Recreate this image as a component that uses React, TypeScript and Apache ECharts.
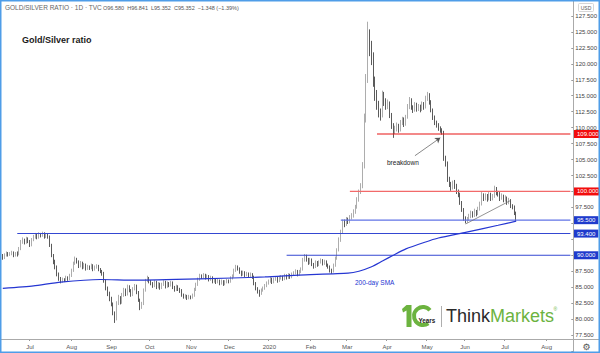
import React, { useEffect, useRef } from 'react';
import * as echarts from 'echarts';

// ---- categories: weekday trading dates (Jun 10 2019 .. Aug 21 2020) ----
const START_DATE = '2019-06-10';
const CATEGORY_COUNT = 315;
const dates: string[] = (() => {
  const out: string[] = [];
  const d = new Date(START_DATE + 'T00:00:00Z');
  while (out.length < CATEGORY_COUNT) {
    const wd = d.getUTCDay();
    if (wd !== 0 && wd !== 6) out.push(d.toISOString().slice(0, 10));
    d.setUTCDate(d.getUTCDate() + 1);
  }
  return out;
})();

const MONTHS = ['Jan', 'Feb', 'Mar', 'Apr', 'May', 'Jun', 'Jul', 'Aug', 'Sep', 'Oct', 'Nov', 'Dec'];

// ---- daily candles [open, close, low, high] ----
const ohlc: number[][] = [
  [89.9,89.6,89.3,90.2],[89.6,90.0,89.4,90.3],[90.0,90.3,89.8,90.6],[90.3,90.1,89.8,90.5],[90.1,90.2,89.9,90.5],
  [90.2,90.4,90.0,90.7],[90.4,90.0,89.7,90.6],[90.0,90.3,89.8,90.5],[90.3,90.1,89.8,90.6],[90.1,91.0,90.0,91.3],
  [91.0,92.1,90.8,92.4],[92.1,92.4,91.8,92.8],[92.4,92.0,91.7,92.6],[92.0,92.6,91.8,92.9],[92.6,92.2,91.9,92.8],
  [92.2,91.6,91.3,92.4],[91.6,92.4,91.4,92.7],[92.4,92.9,92.2,93.2],[92.9,93.2,92.6,93.5],[93.2,92.8,92.5,93.4],
  [92.8,93.3,92.6,93.6],[93.3,93.1,92.8,93.5],[93.1,93.4,92.9,93.7],[93.4,92.9,92.6,93.6],[92.9,93.2,92.7,93.5],
  [93.2,93.0,92.6,93.4],[93.0,91.6,91.3,93.1],[91.6,90.0,89.7,91.8],[90.0,89.0,88.6,90.2],[89.0,88.2,87.8,89.3],
  [88.2,87.0,86.7,88.4],[87.0,86.3,86.0,87.3],[86.3,85.9,85.6,86.6],[85.9,86.2,85.7,86.5],[86.2,86.0,85.8,86.4],
  [86.0,86.5,85.8,86.8],[86.5,86.3,86.0,86.7],[86.3,86.8,86.1,87.1],[86.8,87.6,86.6,87.9],[87.6,88.7,87.4,89.0],
  [88.7,89.4,88.5,89.8],[89.4,89.0,88.7,89.6],[89.0,88.3,88.0,89.2],[88.3,88.8,88.1,89.1],[88.8,88.1,87.8,89.0],
  [88.1,88.5,87.9,88.8],[88.5,87.9,87.6,88.7],[87.9,88.2,87.7,88.5],[88.2,88.0,87.7,88.4],[88.0,88.4,87.8,88.7],
  [88.4,87.8,87.5,88.6],[87.8,88.1,87.6,88.4],[88.1,88.3,87.9,88.6],[88.3,87.8,87.5,88.5],[87.8,87.5,87.2,88.0],
  [87.5,87.2,86.8,87.7],[87.2,86.0,85.7,87.4],[86.0,84.8,84.5,86.2],[84.8,84.0,83.6,85.1],[84.0,83.2,82.8,84.3],
  [83.2,82.4,82.0,83.5],[82.4,80.9,80.6,82.6],[80.9,80.0,79.4,81.2],[80.0,82.5,79.8,82.8],[82.5,83.4,82.2,83.8],
  [83.4,82.6,82.3,83.6],[82.6,83.8,82.4,84.1],[83.8,84.6,83.5,84.9],[84.6,83.9,83.6,84.8],[83.9,85.1,83.7,85.4],
  [85.1,84.5,84.2,85.3],[84.5,83.8,83.5,84.7],[83.8,84.7,83.6,85.0],[84.7,85.2,84.5,85.5],[85.2,84.2,83.9,85.4],
  [84.2,83.0,82.7,84.4],[83.0,81.9,81.4,83.2],[81.9,82.4,81.6,82.7],[82.4,84.5,82.2,84.8],[84.5,86.0,84.3,86.3],
  [86.0,86.4,85.8,86.8],[86.4,85.9,85.6,86.6],[85.9,85.6,85.3,86.1],[85.6,85.2,84.9,85.8],[85.2,85.8,85.0,86.1],
  [85.8,85.0,84.7,86.0],[85.0,85.5,84.8,85.8],[85.5,84.9,84.6,85.7],[84.9,85.4,84.7,85.7],[85.4,85.8,85.2,86.1],
  [85.8,85.1,84.8,86.0],[85.1,85.6,84.9,85.9],[85.6,85.3,85.0,85.8],[85.3,85.7,85.1,86.0],[85.7,85.0,84.7,85.9],
  [85.0,84.6,84.3,85.2],[84.6,85.1,84.4,85.4],[85.1,84.7,84.4,85.3],[84.7,84.5,84.1,84.9],[84.5,83.8,83.5,84.7],
  [83.8,83.5,83.2,84.0],[83.5,83.6,83.2,83.9],[83.6,83.3,83.0,83.8],[83.3,83.5,83.1,83.8],[83.5,83.4,83.1,83.7],
  [83.4,83.7,83.2,84.0],[83.7,84.6,83.5,84.9],[84.6,85.4,84.4,85.7],[85.4,86.2,85.2,86.5],[86.2,86.8,86.0,87.1],
  [86.8,86.6,86.3,87.0],[86.6,86.9,86.4,87.2],[86.9,86.5,86.2,87.1],[86.5,86.7,86.3,87.0],[86.7,86.2,85.9,86.9],
  [86.2,86.5,86.0,86.8],[86.5,85.9,85.6,86.7],[85.9,86.1,85.7,86.4],[86.1,85.8,85.5,86.3],[85.8,86.0,85.6,86.3],
  [86.0,85.6,85.3,86.2],[85.6,85.9,85.4,86.2],[85.9,85.5,85.2,86.1],[85.5,85.8,85.3,86.1],[85.8,86.0,85.6,86.3],
  [86.0,85.9,85.6,86.2],[85.9,86.4,85.7,86.7],[86.4,86.7,86.2,87.0],[86.7,87.6,86.5,87.9],[87.6,88.2,87.4,88.5],
  [88.2,87.9,87.6,88.4],[87.9,87.4,87.1,88.1],[87.4,87.0,86.7,87.6],[87.0,87.3,86.8,87.6],[87.3,86.9,86.6,87.5],
  [86.9,87.1,86.7,87.4],[87.1,86.8,86.5,87.3],[86.8,87.0,86.6,87.3],[87.0,86.6,86.3,87.2],[86.6,85.6,85.3,86.8],
  [85.6,84.8,84.5,85.8],[84.8,84.4,84.0,85.0],[84.4,84.0,83.5,84.6],[84.0,84.5,83.8,84.8],[84.5,84.8,84.3,85.1],
  [84.8,85.2,84.6,85.5],[85.2,85.6,85.0,85.9],[85.6,85.9,85.4,86.2],[85.9,86.3,85.7,86.6],[86.3,85.8,85.5,86.5],
  [85.8,86.2,85.6,86.5],[86.2,86.4,86.0,86.7],[86.4,86.0,85.7,86.6],[86.0,86.5,85.8,86.8],[86.5,86.6,86.2,86.9],
  [86.6,86.3,86.0,86.8],[86.3,86.8,86.1,87.1],[86.8,86.5,86.2,87.0],[86.5,86.9,86.3,87.2],[86.9,86.6,86.3,87.1],
  [86.6,87.0,86.4,87.3],[87.0,87.2,86.8,87.5],[87.2,87.5,87.0,87.8],[87.5,87.0,86.7,87.7],[87.0,87.4,86.8,87.7],
  [87.4,87.8,87.2,88.1],[87.8,89.2,87.6,89.6],[89.2,89.8,89.0,90.2],[89.8,89.4,89.0,90.1],[89.4,88.8,88.5,89.6],
  [88.8,89.3,88.6,89.6],[89.3,88.6,88.3,89.5],[88.6,88.2,87.9,88.8],[88.2,88.9,88.0,89.2],[88.9,88.5,88.2,89.1],
  [88.5,88.9,88.3,89.2],[88.9,89.2,88.7,89.5],[89.2,88.7,88.4,89.4],[88.7,89.0,88.5,89.3],[89.0,88.5,88.2,89.2],
  [88.5,88.2,87.9,88.7],[88.2,87.6,87.3,88.4],[87.6,87.5,87.1,87.9],[87.5,88.4,87.3,88.7],[88.4,89.5,88.2,89.8],
  [89.5,90.8,89.3,91.1],[90.8,92.4,90.6,92.8],[92.4,93.6,92.1,94.0],[93.6,95.2,93.4,95.6],[95.2,94.8,94.4,95.6],
  [94.8,95.6,94.6,96.0],[95.6,95.2,94.9,95.9],[95.2,95.9,95.0,96.3],[95.9,96.2,95.6,96.6],[96.2,96.8,95.9,97.2],
  [96.8,97.5,96.5,97.9],[97.5,98.7,97.3,99.1],[98.7,99.9,98.4,100.3],[99.9,100.8,99.6,101.3],[100.8,104.0,100.5,104.6],
  [104.0,111.5,103.6,112.2],[111.5,117.5,110.8,118.4],[117.5,124.0,117.0,126.6],[124.0,122.5,121.2,125.4],[122.5,121.0,119.8,123.6],
  [121.0,117.2,116.4,121.8],[117.2,115.0,114.2,118.0],[115.0,113.6,112.8,115.9],[113.6,112.3,111.6,114.2],[112.3,111.9,111.1,113.0],
  [111.9,115.2,111.6,115.8],[115.2,114.0,113.4,115.6],[114.0,113.5,112.8,114.6],[113.5,113.8,112.9,114.4],[113.8,112.0,111.5,114.1],
  [112.0,110.4,109.8,112.3],[110.4,109.3,108.4,110.7],[109.3,109.8,109.0,110.3],[109.8,110.3,109.4,110.8],[110.3,109.6,109.2,110.6],
  [109.6,110.8,109.4,111.2],[110.8,111.3,110.4,111.7],[111.3,110.5,110.1,111.6],[110.5,111.6,110.3,112.0],[111.6,113.2,111.4,113.7],
  [113.2,114.3,112.9,114.8],[114.3,113.2,112.8,114.6],[113.2,112.8,112.3,113.5],[112.8,113.6,112.5,114.0],[113.6,112.9,112.5,113.9],
  [112.9,113.3,112.6,113.7],[113.3,112.8,112.4,113.6],[112.8,113.7,112.6,114.1],[113.7,113.2,112.8,114.0],[113.2,114.6,113.0,115.0],
  [114.6,115.2,114.2,115.6],[115.2,114.0,113.6,115.4],[114.0,112.8,112.4,114.3],[112.8,111.6,111.2,113.0],[111.6,110.8,110.4,111.9],
  [110.8,110.4,110.0,111.1],[110.4,109.9,109.5,110.7],[109.9,109.6,109.2,110.2],[109.6,109.3,108.9,109.9],[109.3,105.2,104.8,109.5],
  [105.2,104.4,103.9,105.6],[104.4,101.9,101.5,104.7],[101.9,101.2,100.7,102.3],[101.2,100.6,100.1,101.5],[100.6,101.3,100.3,101.7],
  [101.3,100.9,100.4,101.8],[100.9,100.0,99.6,101.2],[100.0,99.6,99.1,100.3],[99.6,98.3,97.9,99.8],[98.3,97.2,96.8,98.5],
  [97.2,95.8,95.4,97.4],[95.8,95.3,95.0,96.1],[95.3,95.7,95.1,96.0],[95.7,96.1,95.4,96.5],[96.1,96.6,95.8,97.0],
  [96.6,96.3,95.9,96.9],[96.3,96.9,96.0,97.3],[96.9,96.5,96.1,97.1],[96.5,97.3,96.3,97.6],[97.3,98.0,97.0,98.4],
  [98.0,99.4,97.8,99.9],[99.4,98.9,98.5,99.7],[98.9,99.3,98.6,99.7],[99.3,98.8,98.4,99.6],[98.8,99.5,98.6,99.9],
  [99.5,98.9,98.5,99.8],[98.9,99.2,98.6,99.6],[99.2,100.4,99.0,100.9],[100.4,99.8,99.4,100.7],[99.8,99.6,99.2,100.1],
  [99.6,98.9,98.5,99.9],[98.9,99.3,98.7,99.7],[99.3,98.7,98.3,99.5],[98.7,99.0,98.4,99.4],[99.0,98.3,97.9,99.2],
  [98.3,98.6,98.0,99.0],[98.6,97.8,97.4,98.8],[97.8,97.6,97.2,98.0],[97.6,96.7,96.3,97.8],[96.58,95.352,95.352,96.841],
];

// ---- 200-day SMA readings ----
const smaDates = ['2019-06-10','2019-07-03','2019-07-24','2019-08-23','2019-09-19','2019-11-08','2019-12-30','2020-01-24',
  '2020-03-03','2020-03-11','2020-03-20','2020-03-30','2020-04-07','2020-04-16','2020-04-30','2020-05-12','2020-06-02','2020-06-26','2020-07-10'];
const smaValues = [84.8, 85.2, 85.8, 86.2, 86.1, 86.3, 86.6, 86.9, 87.2, 87.5, 88.2, 89.1, 90.0, 91.0, 92.0, 92.7, 93.6, 94.7, 95.35];

// ---- horizontal levels ----
const levelValues = [109, 100, 95.5, 93.4, 90];
const levelStarts = ['2020-03-25', '2020-03-04', '2020-02-26', '2019-06-20', '2020-01-15'];
const levelLineColors = ['#e81414', '#f26a6a', '#6073e6', '#3447d2', '#3447d2'];
const levelBoxColors = ['#f20d0d', '#f20d0d', '#1f3bcc', '#1f3bcc', '#1f3bcc'];

// ---- trend line & breakdown arrow ----
const trendDates = ['2020-06-02', '2020-07-07'];
const trendValues = [94.9, 98.6];
const arrowDates = ['2020-04-23', '2020-05-13'];
const arrowValues = [105.6, 108.4];

const FONT = '"Liberation Sans", Arial, sans-serif';

function isMonthStart(i: number): boolean {
  if (i <= 0 || i >= dates.length) return false;
  return dates[i].slice(0, 7) !== dates[i - 1].slice(0, 7);
}

export default function App() {
  const ref = useRef<HTMLDivElement>(null);
  useEffect(() => {
    const chart = echarts.init(ref.current!, null, { renderer: 'svg' });
    const lastCat = dates[dates.length - 1];
    const levelSeries = levelValues.map((v, k) => ({
      type: 'line',
      xAxisIndex: 0,
      yAxisIndex: 0,
      data: [[levelStarts[k], v], [lastCat, v]],
      symbol: 'none',
      silent: true,
      z: 4,
      lineStyle: { color: levelLineColors[k], width: k === 1 || k === 2 ? 1.3 : 1.1 },
    }));
    chart.setOption({
      animation: false,
      backgroundColor: '#ffffff',
      grid: [
        { left: 1.9, right: 27, top: -1, height: 352 },
        { left: 1.9, right: 27, top: 338, height: 1 },
      ],
      xAxis: [
        { type: 'category', gridIndex: 0, data: dates, boundaryGap: true, show: false },
        {
          type: 'category', gridIndex: 1, data: dates, boundaryGap: true,
          axisLine: { show: false },
          axisTick: { show: true, interval: (i: number) => isMonthStart(i), length: 2, lineStyle: { color: '#999' } },
          axisLabel: {
            interval: (i: number) => isMonthStart(i),
            formatter: (val: string) => {
              const m = +val.slice(5, 7);
              return m === 1 ? val.slice(0, 4) : MONTHS[m - 1];
            },
            fontSize: 6, color: '#555', margin: 5, fontFamily: FONT,
          },
          splitLine: { show: false },
        },
      ],
      yAxis: [
        {
          type: 'value', gridIndex: 0, position: 'right', min: 75, max: 130, interval: 2.5,
          axisLine: { show: false },
          axisTick: { show: true, length: 2, lineStyle: { color: '#999' } },
          axisLabel: {
            // labels hidden where a level box covers them, as in the reference
            formatter: (v: number) =>
              v <= 75 || v >= 130 || levelValues.some((l) => Math.abs(l - v) < 1) ? '' : v.toFixed(3),
            fontSize: 6, color: '#444', margin: 4, fontFamily: FONT,
          },
          splitLine: { show: false },
        },
        { type: 'value', gridIndex: 1, show: false },
      ],
      series: [
        {
          type: 'candlestick',
          xAxisIndex: 0, yAxisIndex: 0,
          data: ohlc,
          barWidth: 1.2,
          z: 2,
          itemStyle: { color: '#d2d2d2', color0: '#141414', borderColor: '#8a8a8a', borderColor0: '#141414', borderWidth: 0.7 },
          markLine: {
            silent: true,
            symbol: ['none', 'arrow'],
            symbolSize: 5,
            label: { show: false },
            lineStyle: { color: '#555', width: 0.7, type: 'solid' },
            data: [[{ coord: [arrowDates[0], arrowValues[0]] }, { coord: [arrowDates[1], arrowValues[1]] }]],
          },
        },
        {
          type: 'line', xAxisIndex: 0, yAxisIndex: 0,
          data: smaDates.map((d, k) => [d, smaValues[k]]),
          symbol: 'none', smooth: 0.2, z: 5, silent: true,
          lineStyle: { color: '#2536d2', width: 1.2 },
        },
        {
          type: 'line', xAxisIndex: 0, yAxisIndex: 0,
          data: trendDates.map((d, k) => [d, trendValues[k]]),
          symbol: 'none', z: 5, silent: true,
          lineStyle: { color: '#666', width: 0.7 },
        },
        ...levelSeries,
      ],
    });

    const boxes = levelValues.map((v, k) => {
      const y = chart.convertToPixel({ yAxisIndex: 0 }, v) as number;
      return {
        type: 'text', x: 574, y, z: 100,
        style: {
          text: v.toFixed(3), fill: '#ffffff', backgroundColor: levelBoxColors[k],
          padding: [1, 3, 1, 3], font: `6px ${FONT}`,
          align: 'left', verticalAlign: 'middle', textAlign: 'left', textVerticalAlign: 'middle',
        },
      };
    });

    const txt = (x: number, y: number, text: string, font: string, fill: string, align = 'left') => ({
      type: 'text', x, y, z: 100,
      style: { text, font, fill, align, verticalAlign: 'middle', textAlign: align, textVerticalAlign: 'middle' },
    });

    chart.setOption({
      graphic: {
        elements: [
          { type: 'line', z: 90, shape: { x1: 573.5, y1: 0, x2: 573.5, y2: 353 }, style: { stroke: '#aaaaaa', lineWidth: 1 } },
          { type: 'line', z: 90, shape: { x1: 0, y1: 339.5, x2: 600, y2: 339.5 }, style: { stroke: '#aaaaaa', lineWidth: 1 } },
          txt(5, 7.5, 'GOLD/SILVER RATIO · 1D · TVC', `6.5px ${FONT}`, '#666'),
          txt(103, 7.5, 'O96.580  H96.841  L95.352  C95.352  −1.348 (−1.39%)', `5.5px ${FONT}`, '#555'),
          txt(22, 40, 'Gold/Silver ratio', `bold 9px ${FONT}`, '#1a1a1a'),
          txt(387, 162, 'breakdown', `6.5px ${FONT}`, '#222'),
          txt(355, 282, '200-day SMA', `6.5px ${FONT}`, '#2536d2'),
          { type: 'rect', z: 95, shape: { x: 578.5, y: 3.5, width: 15, height: 8, r: 1 }, style: { fill: '#fff', stroke: '#ccc', lineWidth: 0.8 } },
          txt(586, 7.6, 'USD', `5px ${FONT}`, '#555', 'center'),
          txt(586.5, 346.5, '⚙', `9px "DejaVu Sans"`, '#555', 'center'),
          // logo
          { type: 'polygon', z: 100, shape: { points: [[402, 309], [406.5, 305], [411.5, 305], [411.5, 327], [406.5, 327], [406.5, 310.5], [403, 312.5]] }, style: { fill: '#6cb33f' } },
          { type: 'arc', z: 100, shape: { cx: 423, cy: 316, r: 9, startAngle: Math.PI * 0.3, endAngle: Math.PI * 1.78 }, style: { stroke: '#6cb33f', lineWidth: 4, fill: 'none' } },
          txt(418.5, 320, 'Years', `bold 6.3px ${FONT}`, '#222'),
          { type: 'line', z: 100, shape: { x1: 441.5, y1: 306, x2: 441.5, y2: 327 }, style: { stroke: '#999', lineWidth: 0.8 } },
          {
            type: 'text', x: 446, y: 316, z: 100,
            style: {
              text: '{a|Think}{b|Markets}', font: `18px ${FONT}`,
              rich: { a: { fill: '#2a2a2a', font: `18px ${FONT}` }, b: { fill: '#6cb33f', font: `18px ${FONT}` } },
              align: 'left', verticalAlign: 'middle', textAlign: 'left', textVerticalAlign: 'middle',
            },
          },
          txt(553.5, 309, '®', `5px ${FONT}`, '#6cb33f'),
          ...boxes,
          { type: 'rect', z: 120, shape: { x: 0.75, y: 0.75, width: 598.5, height: 351.5 }, style: { fill: 'none', stroke: '#4f9de8', lineWidth: 1.5 } },
        ],
      },
    });
    return () => chart.dispose();
  }, []);
  return <div ref={ref} style={{ position: 'fixed', left: 0, top: 0, width: 600, height: 353 }} />;
}
